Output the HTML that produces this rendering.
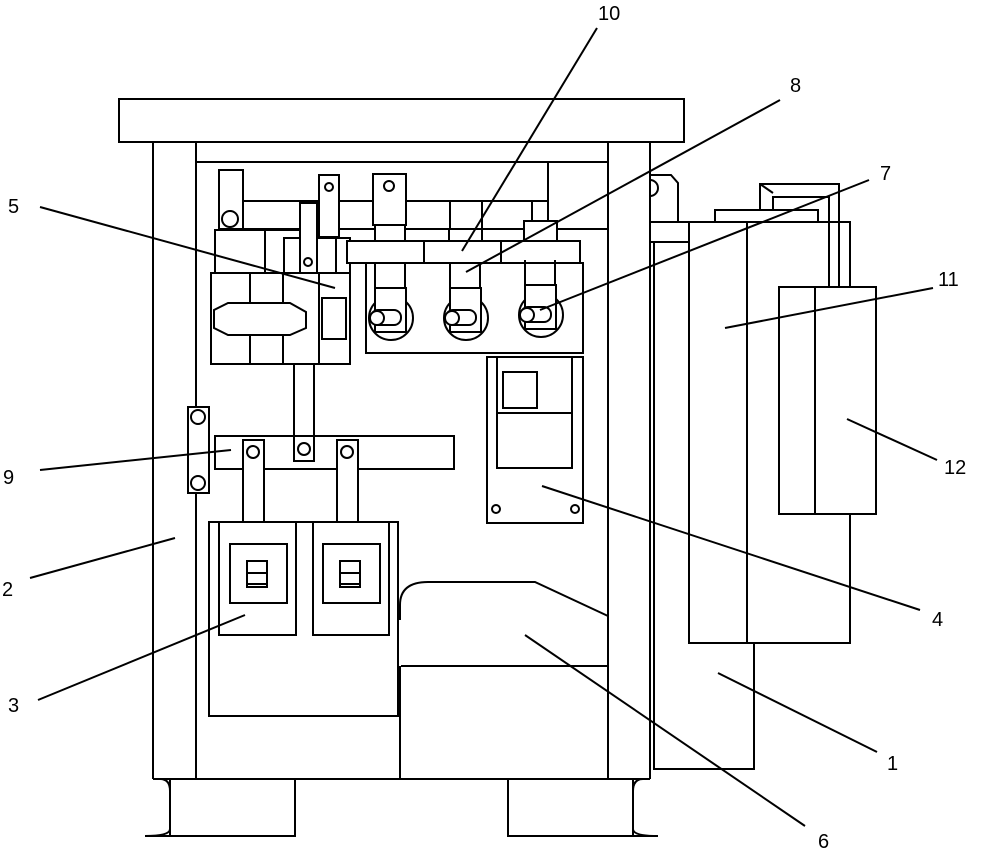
<!DOCTYPE html>
<html><head><meta charset="utf-8"><style>body{margin:0;background:#fff}svg{display:block}text{font-family:"Liberation Sans",sans-serif;font-size:20px}</style></head><body>
<svg width="1000" height="854" viewBox="0 0 1000 854" xmlns="http://www.w3.org/2000/svg">
<g fill="none" stroke="#000" stroke-width="2">
<!-- roof -->
<rect x="119" y="99" width="565" height="43" fill="#fff"/>
<!-- cabinet -->
<line x1="153" y1="142" x2="153" y2="779"/><line x1="196" y1="142" x2="196" y2="779"/>
<line x1="608" y1="142" x2="608" y2="779"/><line x1="650" y1="142" x2="650" y2="779"/>
<line x1="196" y1="162" x2="608" y2="162"/>
<line x1="153" y1="779" x2="650" y2="779"/>
<line x1="548" y1="162" x2="548" y2="229"/><line x1="548" y1="229" x2="608" y2="229"/>
<!-- feet -->
<path d="M170 779V836H295V779"/><path d="M160 779q10 0 10 12v38q0 7-25 7h25"/>
<path d="M508 779V836H633V779"/><path d="M643 779q-10 0-10 12v38q0 7 25 7h-25"/>
<!-- top components -->
<path d="M243 201H318M340 201H548M243 229H548"/>
<line x1="450" y1="201" x2="450" y2="241"/><line x1="482" y1="201" x2="482" y2="241"/><line x1="532" y1="201" x2="532" y2="221"/>
<rect x="219" y="170" width="24" height="59" fill="#fff"/><circle cx="230" cy="219" r="8"/>
<rect x="215" y="230" width="50" height="43" fill="#fff"/>
<rect x="265" y="230" width="35" height="43"/>
<rect x="284" y="238" width="34" height="35" fill="#fff"/>
<rect x="300" y="203" width="17" height="70" fill="#fff"/><circle cx="308" cy="262" r="4"/>
<rect x="319" y="175" width="20" height="62" fill="#fff"/><circle cx="329" cy="187" r="4"/>
<rect x="317" y="238" width="33" height="35" fill="#fff"/><line x1="336" y1="238" x2="336" y2="273"/>
<rect x="524" y="221" width="33" height="20" fill="#fff"/>
<rect x="366" y="263" width="217" height="90" fill="#fff"/>
<rect x="373" y="174" width="33" height="51" fill="#fff"/><circle cx="389" cy="186" r="5"/>
<rect x="375" y="225" width="30" height="38" fill="#fff"/>
<rect x="449" y="229" width="33" height="34" fill="#fff"/>
<rect x="524" y="241" width="33" height="22" fill="#fff"/>
<rect x="347" y="241" width="233" height="22" fill="#fff"/>
<line x1="424" y1="241" x2="424" y2="263"/><line x1="501" y1="241" x2="501" y2="263"/>
<!-- fuses -->
<g id="f1"><line x1="375" y1="263" x2="375" y2="288"/><line x1="405" y1="263" x2="405" y2="288"/>
<circle cx="391" cy="318" r="22" fill="#fff"/><rect x="375" y="288" width="31" height="44" fill="#fff"/>
<rect x="371" y="310" width="30" height="15" rx="7" fill="#fff"/><circle cx="377" cy="318" r="7" fill="#fff"/></g>
<use href="#f1" x="75"/><use href="#f1" x="150" y="-3"/>
<!-- box 5 -->
<rect x="211" y="273" width="139" height="91" fill="#fff"/>
<line x1="250" y1="273" x2="250" y2="364"/><line x1="283" y1="273" x2="283" y2="364"/><line x1="319" y1="273" x2="319" y2="364"/>
<polygon points="228,303 290,303 306,312 306,328 290,335 228,335 214,328 214,310" fill="#fff"/>
<rect x="322" y="298" width="24" height="41"/>
<!-- rod & bar 9 -->
<rect x="294" y="364" width="20" height="97"/>
<rect x="215" y="436" width="239" height="33" fill="#fff"/>
<rect x="294" y="436" width="20" height="25" fill="#fff"/><circle cx="304" cy="449" r="6"/>
<rect x="188" y="407" width="21" height="86" fill="#fff"/><circle cx="198" cy="417" r="7"/><circle cx="198" cy="483" r="7"/>
<rect x="243" y="440" width="21" height="82" fill="#fff"/><circle cx="253" cy="452" r="6"/>
<rect x="337" y="440" width="21" height="82" fill="#fff"/><circle cx="347" cy="452" r="6"/>
<!-- box 3 -->
<rect x="209" y="522" width="189" height="194"/>
<rect x="219" y="522" width="77" height="113"/><rect x="313" y="522" width="76" height="113"/>
<rect x="230" y="544" width="57" height="59"/><rect x="323" y="544" width="57" height="59"/>
<rect x="247" y="561" width="20" height="26"/><line x1="247" y1="573" x2="267" y2="573"/><line x1="247" y1="584" x2="267" y2="584"/>
<rect x="340" y="561" width="20" height="26"/><line x1="340" y1="573" x2="360" y2="573"/><line x1="340" y1="584" x2="360" y2="584"/>
<!-- box 6 -->
<path d="M400 620V605Q400 582 428 582H535L608 616"/>
<line x1="401" y1="666" x2="608" y2="666"/><line x1="400" y1="666" x2="400" y2="779"/>
<!-- box 4 -->
<rect x="487" y="357" width="96" height="166"/>
<rect x="497" y="357" width="75" height="111"/><line x1="497" y1="413" x2="572" y2="413"/>
<rect x="503" y="372" width="34" height="36"/>
<circle cx="496" cy="509" r="4"/><circle cx="575" cy="509" r="4"/>
<!-- right unit -->
<rect x="654" y="242" width="100" height="527"/>
<path d="M650 222V175H671L678 183V222"/><path d="M650 180A8 8 0 0 1 650 196"/>
<rect x="715" y="210" width="103" height="12" fill="#fff"/>
<path d="M760 210V184H839V287M829 287V197H773V210M760 184L773 193"/>
<rect x="689" y="222" width="161" height="421" fill="#fff"/>
<line x1="650" y1="222" x2="689" y2="222"/>
<line x1="747" y1="222" x2="747" y2="643"/>
<line x1="650" y1="242" x2="689" y2="242"/>
<line x1="829" y1="222" x2="829" y2="287"/><line x1="839" y1="222" x2="839" y2="287"/>
<rect x="779" y="287" width="97" height="227" fill="#fff"/><line x1="815" y1="287" x2="815" y2="514"/>
<!-- leaders -->
<line x1="597" y1="28" x2="462" y2="251"/>
<line x1="780" y1="100" x2="466" y2="272"/>
<line x1="869" y1="180" x2="540" y2="310"/>
<line x1="933" y1="288" x2="725" y2="328"/>
<line x1="937" y1="460" x2="847" y2="419"/>
<line x1="920" y1="610" x2="542" y2="486"/>
<line x1="877" y1="752" x2="718" y2="673"/>
<line x1="805" y1="826" x2="525" y2="635"/>
<line x1="40" y1="207" x2="335" y2="288"/>
<line x1="40" y1="470" x2="231" y2="450"/>
<line x1="30" y1="578" x2="175" y2="538"/>
<line x1="38" y1="700" x2="245" y2="615"/>
</g>
<g fill="#000">
<text x="598" y="20">10</text><text x="790" y="92">8</text><text x="880" y="180">7</text>
<text x="938" y="286">11</text><text x="944" y="474">12</text><text x="932" y="626">4</text>
<text x="887" y="770">1</text><text x="818" y="848">6</text>
<text x="8" y="213">5</text><text x="3" y="484">9</text><text x="2" y="596">2</text><text x="8" y="712">3</text>
</g>
</svg>
</body></html>
